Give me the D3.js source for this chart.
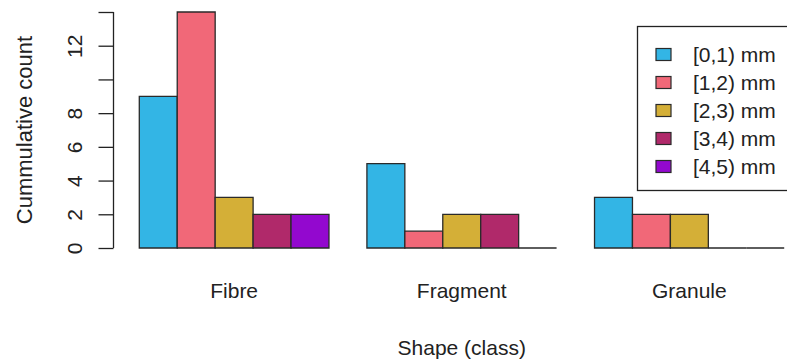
<!DOCTYPE html>
<html>
<head>
<meta charset="utf-8">
<script src="https://cdn.jsdelivr.net/npm/d3@7"></script>
<style>
  html, body { margin: 0; padding: 0; background: #fff; }
  svg { display: block; font-family: "Liberation Sans", Arial, sans-serif; }
</style>
</head>
<body>
<svg id="chart" width="787" height="363"></svg>
<script>
// Shape classes on the x axis and size bins in each group
const shapes = ["Fibre", "Fragment", "Granule"];
const sizeBins = ["[0,1) mm", "[1,2) mm", "[2,3) mm", "[3,4) mm", "[4,5) mm"];

// Counts per size bin, one value per shape class
const bin01 = [9, 5, 3];
const bin12 = [14, 1, 2];
const bin23 = [3, 2, 2];
const bin34 = [2, 2, 0];
const bin45 = [2, 0, 0];
const binValues = [bin01, bin12, bin23, bin34, bin45];

const binColors = ["#33B5E5", "#F16878", "#D4AF37", "#B0296A", "#9308CF"];

const yTicks = [0, 2, 4, 6, 8, 10, 12, 14];
const yTickLabels = ["0", "2", "4", "6", "8", "", "12", ""];

const svg = d3.select("#chart");
const ink = "#222";
const fontSize = 21;

// Bars sit on unit slots: one empty slot before every group, five bars per group
const slotsPerGroup = sizeBins.length + 1;
const nSlots = shapes.length * slotsPerGroup;
const x = d3.scaleLinear().domain([0.32, nSlots + 0.68]).range([113.5, 810]);
const y = d3.scaleLinear().domain([0, 14]).range([248, 12]);

const bars = [];
shapes.forEach((s, g) => {
  sizeBins.forEach((b, i) => {
    const left = g * slotsPerGroup + 1 + i;
    bars.push({ shape: s, bin: i, left, value: binValues[i][g] });
  });
});

// Bars as closed paths so that empty bins still leave their outline on the baseline
svg.append("g")
  .selectAll("path")
  .data(bars)
  .join("path")
  .attr("d", d => {
    const x0 = x(d.left), x1 = x(d.left + 1), y0 = y(0), y1 = y(d.value);
    return `M${x0},${y0}L${x0},${y1}L${x1},${y1}L${x1},${y0}Z`;
  })
  .attr("fill", d => binColors[d.bin])
  .attr("stroke", "#2a2a2a")
  .attr("stroke-width", 1.3);

// Category labels beneath each group
svg.append("g")
  .selectAll("text")
  .data(shapes)
  .join("text")
  .attr("x", (d, g) => x(g * slotsPerGroup + 1 + sizeBins.length / 2))
  .attr("y", 298)
  .attr("text-anchor", "middle")
  .attr("font-size", fontSize)
  .attr("fill", ink)
  .text(d => d);

// Y axis on the left, labels running along the axis
const yAxis = d3.axisLeft(y)
  .tickValues(yTicks)
  .tickFormat((d, i) => yTickLabels[i])
  .tickSize(15)
  .tickSizeOuter(0)
  .tickPadding(0);

const yg = svg.append("g")
  .attr("transform", `translate(${x(0.32)},0)`)
  .call(yAxis);
yg.select(".domain").attr("stroke", ink).attr("stroke-width", 1.3)
  .attr("d", `M0,${y(0)}V${y(14)}`);
yg.selectAll(".tick line").attr("stroke", ink).attr("stroke-width", 1.3);
yg.selectAll(".tick text")
  .attr("font-size", fontSize)
  .attr("font-family", "Liberation Sans, Arial, sans-serif")
  .attr("fill", ink)
  .attr("text-anchor", "middle")
  .attr("dy", null)
  .attr("x", null)
  .attr("transform", "translate(-32,0) rotate(-90)");

// Axis titles
svg.append("text")
  .attr("x", (x.range()[0] + x.range()[1]) / 2)
  .attr("y", 355)
  .attr("text-anchor", "middle")
  .attr("font-size", fontSize)
  .attr("fill", ink)
  .text("Shape (class)");

svg.append("text")
  .attr("transform", `translate(32,${y(7)}) rotate(-90)`)
  .attr("text-anchor", "middle")
  .attr("font-size", 22)
  .attr("fill", ink)
  .text("Cummulative count");

// Legend
const legend = svg.append("g");
legend.append("rect")
  .attr("x", 637.5).attr("y", 26.5)
  .attr("width", 200).attr("height", 164)
  .attr("fill", "#fff")
  .attr("stroke", ink)
  .attr("stroke-width", 1.3);

const rows = legend.selectAll("g.row")
  .data(sizeBins)
  .join("g")
  .attr("class", "row")
  .attr("transform", (d, i) => `translate(0,${54.5 + i * 28})`);

rows.append("rect")
  .attr("x", 656).attr("y", -6)
  .attr("width", 15).attr("height", 12)
  .attr("fill", (d, i) => binColors[i])
  .attr("stroke", "#2a2a2a")
  .attr("stroke-width", 1.2);

rows.append("text")
  .attr("x", 693)
  .attr("y", 7.5)
  .attr("font-size", fontSize)
  .attr("fill", ink)
  .text(d => d);
</script>
</body>
</html>
